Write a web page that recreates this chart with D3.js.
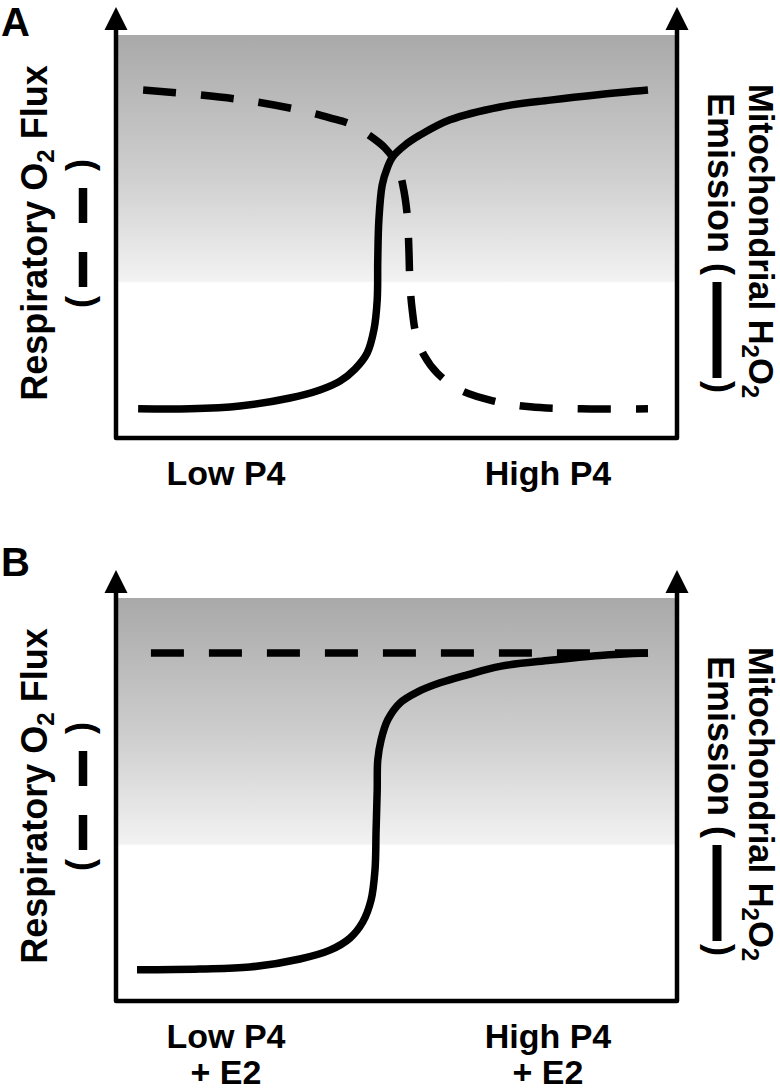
<!DOCTYPE html>
<html><head><meta charset="utf-8">
<script src="https://cdn.jsdelivr.net/npm/d3@7"></script>
<style>
body{margin:0;background:#fff}
svg{display:block}
text{font-family:"Liberation Sans",Arial,sans-serif;font-weight:bold;fill:#000}
</style>
</head><body>
<svg id="c" width="780" height="1092"></svg>
<script>
// ---- data (x: P4 level 0-100, y: relative response 0-100) ----
const panelLetters = ["A", "B"];
const xLabelsA = [["Low P4"], ["High P4"]];
const xLabelsB = [["Low P4", "+ E2"], ["High P4", "+ E2"]];
const leftTitle = ["Respiratory O", "2", " Flux"];
const rightTitle = ["Mitochondrial H", "2", "O", "2"];
const rightSub = "Emission (";

// Panel A: H2O2 emission (solid)
const h2o2A = [[3.8,7.0],[13.1,7.0],[22.1,7.7],[31.1,9.7],[36.5,11.7],[40.1,13.9],[42.8,16.9],[45.0,20.9],[46.2,26.6],[46.8,34.1],[46.9,44.0],[47.1,54.0],[47.7,62.7],[48.6,66.9],[49.6,69.7],[51.8,72.6],[54.5,75.1],[59.9,78.9],[68.9,82.1],[77.9,83.8],[86.9,85.2],[95.5,86.3]];
// Panel A: respiratory O2 flux (dashed)
const o2A = [[4.7,86.3],[14.9,85.1],[23.9,83.6],[32.9,81.3],[38.3,79.4],[41.9,77.9],[45.5,74.9],[48.2,71.9],[50.4,67.7],[51.4,62.7],[52.2,55.2],[52.5,46.5],[52.7,37.8],[53.1,31.6],[53.8,25.4],[55.2,20.4],[57.6,15.9],[61.7,11.7],[67.6,9.0],[74.3,7.5],[83.3,7.0],[95.5,7.0]];
// Panel B: H2O2 emission (solid)
const h2o2B = [[3.6,7.5],[14.9,7.7],[23.9,8.2],[32.9,10.2],[38.3,12.4],[41.9,15.4],[44.2,19.4],[45.7,24.9],[46.4,32.3],[46.6,42.3],[46.8,52.2],[46.9,59.7],[47.5,64.7],[48.7,69.7],[50.9,73.9],[54.0,76.6],[58.1,78.9],[63.0,80.9],[68.9,83.0],[77.9,84.5],[86.9,85.7],[95.5,86.3]];
// Panel B: respiratory O2 flux (dashed)
const o2B = [[6.1,86.3],[95.5,86.3]];

const svg = d3.select("#c");
const defs = svg.append("defs");
const grad = defs.append("linearGradient").attr("id","bg").attr("x1",0).attr("y1",0).attr("x2",0).attr("y2",1);
[[0,"#a9a9a9"],[0.35,"#cfcfcf"],[0.61,"#f2f2f2"],[0.615,"#ffffff"],[1,"#ffffff"]].forEach(s=>
  grad.append("stop").attr("offset",s[0]).attr("stop-color",s[1]));

const X0 = 116, X1 = 677, PH = 403;

function panel(top, letter, letterBase, labels, solid, dashed){
  const g = svg.append("g");
  const x = d3.scaleLinear().domain([0,100]).range([117,673]);
  const y = d3.scaleLinear().domain([0,100]).range([top+402, top]);
  const bottom = top + PH;

  g.append("rect").attr("x",X0).attr("y",top).attr("width",X1-X0).attr("height",PH).attr("fill","url(#bg)");

  // axes
  const ax = g.append("g").attr("stroke","#000").attr("stroke-width",4.5).attr("fill","none");
  ax.append("path").attr("d",`M${X0},${top-8}V${bottom}H${X1}V${top-8}`).attr("stroke-linejoin","round");
  [X0, X1].forEach(xx=>{
    g.append("path").attr("d",`M${xx},${top-28}L${xx-11.5},${top-5}L${xx+11.5},${top-5}Z`).attr("fill","#000");
  });

  const line = d3.line().x(d=>x(d[0])).y(d=>y(d[1])).curve(d3.curveCatmullRom.alpha(0.5));
  g.append("path").datum(solid).attr("d",line).attr("fill","none").attr("stroke","#000").attr("stroke-width",7.5);
  g.append("path").datum(dashed).attr("d",line).attr("fill","none").attr("stroke","#000").attr("stroke-width",7.5).attr("stroke-dasharray","33,25");

  // panel letter
  g.append("text").attr("x",1).attr("y",letterBase).attr("font-size",40).text(letter);

  // x labels
  const xl = d3.scalePoint().domain(labels.map(d=>d[0])).range([226,548]);
  labels.forEach(lines=>{
    lines.forEach((t,i)=>{
      g.append("text").attr("x",xl(lines[0])).attr("y",top+450+i*36).attr("text-anchor","middle").attr("font-size",34).text(t);
    });
  });

  // left title
  const lt = g.append("text").attr("transform",`translate(47,${top+198}) rotate(-90)`).attr("text-anchor","middle").attr("font-size",36);
  lt.append("tspan").text(leftTitle[0]);
  lt.append("tspan").attr("font-size",24).attr("dy",7).text(leftTitle[1]);
  lt.append("tspan").attr("dy",-7).text(leftTitle[2]);
  // left legend
  g.append("text").attr("transform",`translate(92,${top+267}) rotate(-90)`).attr("text-anchor","middle").attr("font-size",36).text("(");
  g.append("text").attr("transform",`translate(92,${top+130}) rotate(-90)`).attr("text-anchor","middle").attr("font-size",36).text(")");
  g.append("path").attr("d",`M83,${top+153}V${top+188}M83,${top+217}V${top+252}`).attr("stroke","#000").attr("stroke-width",8.5);

  // right title
  const rt = g.append("text").attr("transform",`translate(749,${top+206}) rotate(90)`).attr("text-anchor","middle").attr("font-size",34.5);
  rt.append("tspan").text(rightTitle[0]);
  rt.append("tspan").attr("font-size",24).attr("dy",7).text(rightTitle[1]);
  rt.append("tspan").attr("dy",-7).text(rightTitle[2]);
  rt.append("tspan").attr("font-size",24).attr("dy",7).text(rightTitle[3]);
  g.append("text").attr("transform",`translate(708,${top+58}) rotate(90)`).attr("font-size",36).text(rightSub);
  g.append("text").attr("transform",`translate(708,${top+352}) rotate(90)`).attr("text-anchor","middle").attr("font-size",36).text(")");
  g.append("path").attr("d",`M717,${top+247}V${top+343}`).attr("stroke","#000").attr("stroke-width",9);
}

panel(35, panelLetters[0], 36, xLabelsA, h2o2A, o2A);
panel(598, panelLetters[1], 576, xLabelsB, h2o2B, o2B);
</script>
</body></html>
